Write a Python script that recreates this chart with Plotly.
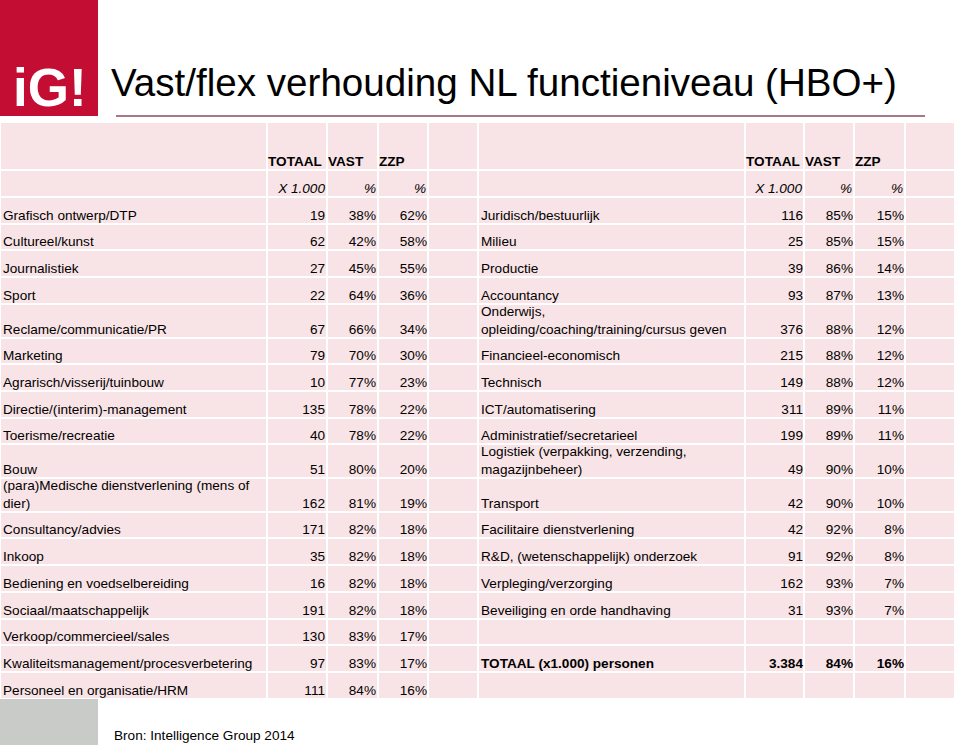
import plotly.graph_objects as go

# left half of the table
left_labels = ["Grafisch ontwerp/DTP", "Cultureel/kunst", "Journalistiek", "Sport",
               "Reclame/communicatie/PR", "Marketing", "Agrarisch/visserij/tuinbouw",
               "Directie/(interim)-management", "Toerisme/recreatie", "Bouw",
               "(para)Medische dienstverlening (mens of<br>dier)", "Consultancy/advies", "Inkoop",
               "Bediening en voedselbereiding", "Sociaal/maatschappelijk",
               "Verkoop/commercieel/sales", "Kwaliteitsmanagement/procesverbetering",
               "Personeel en organisatie/HRM"]
left_totaal = [19, 62, 27, 22, 67, 79, 10, 135, 40, 51, 162, 171, 35, 16, 191, 130, 97, 111]
left_vast = [38, 42, 45, 64, 66, 70, 77, 78, 78, 80, 81, 82, 82, 82, 82, 83, 83, 84]
left_zzp = [62, 58, 55, 36, 34, 30, 23, 22, 22, 20, 19, 18, 18, 18, 18, 17, 17, 16]

# right half of the table
right_labels = ["Juridisch/bestuurlijk", "Milieu", "Productie", "Accountancy",
                "Onderwijs,<br>opleiding/coaching/training/cursus geven", "Financieel-economisch",
                "Technisch", "ICT/automatisering", "Administratief/secretarieel",
                "Logistiek (verpakking, verzending,<br>magazijnbeheer)", "Transport",
                "Facilitaire dienstverlening", "R&D, (wetenschappelijk) onderzoek",
                "Verpleging/verzorging", "Beveiliging en orde handhaving"]
right_totaal = [116, 25, 39, 93, 376, 215, 149, 311, 199, 49, 42, 42, 91, 162, 31]
right_vast = [85, 85, 86, 87, 88, 88, 88, 89, 89, 90, 90, 92, 92, 93, 93]
right_zzp = [15, 15, 14, 13, 12, 12, 12, 11, 11, 10, 10, 8, 8, 7, 7]

total_label = "TOTAAL (x1.000) personen"
total_totaal = "3.384"
total_vast = 84
total_zzp = 16

col_heads = ["TOTAAL", "VAST", "ZZP"]
col_units = ["X 1.000", "%", "%"]

title = "Vast/flex verhouding NL functieniveau (HBO+)"
source = "Bron: Intelligence Group 2014"

# ---- layout constants (pixels) ----
W, H = 960, 745
FONT = "Arial, Liberation Sans, sans-serif"
FS = 13.6
PINK = "#f8e4e6"
col_edges = [0, 267, 327, 378, 428, 478, 745, 804, 854, 905, 955]
head_h, unit_h, row_h, tall_h = 48, 27, 26.7, 33.7
tall_rows = {4, 9, 10}
table_top = 122

row_heights = [head_h, unit_h] + [tall_h if i in tall_rows else row_h for i in range(len(left_labels))]
row_edges = [table_top]
for h in row_heights:
    row_edges.append(row_edges[-1] + h)
bottoms = row_edges[1:]
data_bottoms = bottoms[2:]


def pct(v):
    return f"{v}%"


fig = go.Figure()

# cell grid: one pink brick per cell, white gaps as grid lines
fig.add_trace(go.Heatmap(
    x=col_edges, y=row_edges,
    z=[[1] * (len(col_edges) - 1) for _ in row_heights],
    colorscale=[[0, PINK], [1, PINK]], showscale=False,
    xgap=2, ygap=2, hoverinfo="skip",
))

TXT_OFF = 0.5  # distance of text anchor above the cell bottom


def text_col(texts, ys, x, pos):
    fig.add_trace(go.Scatter(
        x=[x] * len(texts), y=ys, text=texts, mode="text", textposition=pos,
        textfont=dict(family=FONT, size=FS, color="black"),
        hoverinfo="skip", showlegend=False, cliponaxis=False,
    ))


ys_data = [b - TXT_OFF for b in data_bottoms]
n_right = len(right_labels)

for side in (0, 5):
    # header rows
    for k in range(3):
        text_col(["<b>" + col_heads[k] + "</b>"], [bottoms[0] - TXT_OFF],
                 col_edges[side + 1 + k] + 1, "top right")
        text_col(["<i>" + col_units[k] + "</i>"], [bottoms[1] - TXT_OFF],
                 col_edges[side + 2 + k] - 2, "top left")

# left body
text_col(left_labels, ys_data, col_edges[0] + 3, "top right")
text_col([str(v) for v in left_totaal], ys_data, col_edges[2] - 2, "top left")
text_col([pct(v) for v in left_vast], ys_data, col_edges[3] - 2, "top left")
text_col([pct(v) for v in left_zzp], ys_data, col_edges[4] - 1, "top left")

# right body
ys_r = ys_data[:n_right]
text_col(right_labels, ys_r, col_edges[5] + 3, "top right")
text_col([str(v) for v in right_totaal], ys_r, col_edges[7] - 1, "top left")
text_col([pct(v) for v in right_vast], ys_r, col_edges[8] - 1, "top left")
text_col([pct(v) for v in right_zzp], ys_r, col_edges[9] - 1, "top left")

# total row (second last row on the right)
y_tot = [ys_data[-2]]
text_col(["<b>" + total_label + "</b>"], y_tot, col_edges[5] + 3, "top right")
text_col(["<b>" + total_totaal + "</b>"], y_tot, col_edges[7] - 1, "top left")
text_col(["<b>" + pct(total_vast) + "</b>"], y_tot, col_edges[8] - 1, "top left")
text_col(["<b>" + pct(total_zzp) + "</b>"], y_tot, col_edges[9] - 1, "top left")

# logo block, title, rule and grey footer block
fig.add_shape(type="rect", x0=0, x1=98, y0=0, y1=116, fillcolor="#c40d32", line_width=0)
fig.add_annotation(text="<b>iG!</b>", x=50, y=87, showarrow=False, yanchor="middle",
                   font=dict(family=FONT, size=53, color="white"))
fig.add_annotation(text=title, x=109, y=82, xanchor="left", yanchor="middle", showarrow=False,
                   font=dict(family=FONT, size=38.6, color="black"))
fig.add_shape(type="line", x0=116, x1=925, y0=116, y1=116, line=dict(color="#a47a88", width=2))
fig.add_shape(type="rect", x0=0, x1=98, y0=699, y1=H, fillcolor="#c9cbc9", line_width=0)
fig.add_annotation(text=source, x=112, y=735, xanchor="left", yanchor="middle", showarrow=False,
                   font=dict(family=FONT, size=FS, color="black"))

fig.update_xaxes(range=[0, W], visible=False, fixedrange=True)
fig.update_yaxes(range=[H, 0], visible=False, fixedrange=True)
fig.update_layout(width=W, height=H, margin=dict(l=0, r=0, t=0, b=0),
                  paper_bgcolor="white", plot_bgcolor="white", showlegend=False)
fig.write_html("out.html", config={"displayModeBar": False},
               post_script="document.body.style.margin='0';document.body.style.overflow='hidden';")
